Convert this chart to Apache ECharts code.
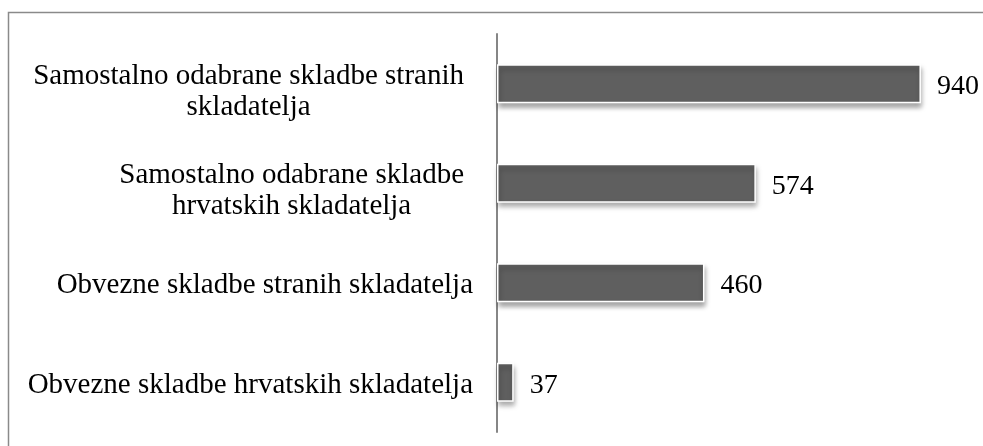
<!DOCTYPE html>
<html>
<head>
<meta charset="utf-8">
<script src="https://cdn.jsdelivr.net/npm/echarts@6/dist/echarts.min.js"></script>
<style>
  html, body { margin: 0; padding: 0; background: #fff; }
  #chart { width: 983px; height: 446px; }
</style>
</head>
<body>
<div id="chart"></div>
<script>
// Podaci (odozdo prema gore, kao na kategorijskoj osi)
const categories = [
    'Obvezne skladbe hrvatskih skladatelja',
    'Obvezne skladbe stranih skladatelja',
    'Samostalno odabrane skladbe\nhrvatskih skladatelja',
    'Samostalno odabrane skladbe stranih\nskladatelja'
];
const values = [37, 460, 574, 940];

const serif = '"Liberation Serif", "Times New Roman", serif';
const chart = echarts.init(document.getElementById('chart'));

const option = {
    animation: false,
    textStyle: { fontFamily: serif },
    // okvir grafikona
    graphic: [{
        type: 'rect',
        shape: { x: 8.5, y: 12.5, width: 1000, height: 500 },
        style: { fill: null, stroke: '#8a8a8a', lineWidth: 1.5 },
        silent: true
    }],
    grid: { left: 497, right: 35, top: 34, bottom: 14 },
    xAxis: {
        type: 'value',
        min: 0,
        max: 1000,
        show: false,
        splitLine: { show: false }
    },
    yAxis: {
        type: 'category',
        data: categories,
        axisLine: { show: true, lineStyle: { color: '#868686', width: 2 } },
        axisTick: { show: false },
        axisLabel: {
            margin: 24,
            align: 'right',
            formatter: function (v) {
                const lines = v.split('\n');
                // prazan red na vrhu malo spušta tekst
                if (lines.length === 1) return '{s6| }\n{c|' + v + '}';
                return '{s16| }\n' + lines.map(l => '{m|' + l + '}').join('\n');
            },
            rich: {
                s6: { fontSize: 1, lineHeight: 6 },
                s16: { fontSize: 1, lineHeight: 16 },
                c: { align: 'center', fontSize: 29, lineHeight: 30, color: '#000', fontFamily: serif },
                m: { align: 'center', fontSize: 29, lineHeight: 31, color: '#000', fontFamily: serif,
                     padding: [0, 9, 0, 0] }
            }
        }
    },
    series: [{
        type: 'bar',
        data: values,
        barWidth: 39,
        itemStyle: {
            color: '#5f5f5f',
            borderColor: '#ffffff',
            borderWidth: 1.5,
            shadowColor: 'rgba(0,0,0,0.35)',
            shadowBlur: 5,
            shadowOffsetX: 1,
            shadowOffsetY: 4
        },
        label: {
            show: true,
            position: 'right',
            distance: 16,
            offset: [0, 3],
            fontSize: 28,
            color: '#000',
            fontFamily: serif
        }
    }]
};

chart.setOption(option);
window.addEventListener('resize', () => chart.resize());
</script>
</body>
</html>
